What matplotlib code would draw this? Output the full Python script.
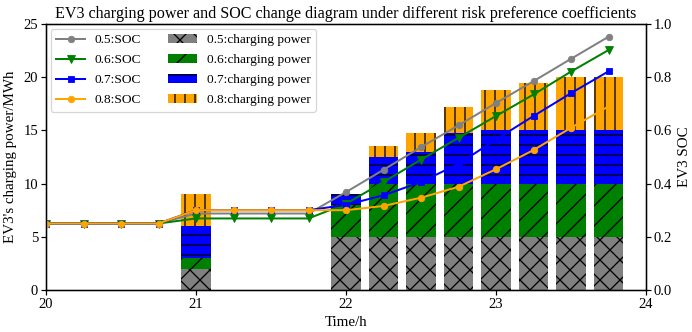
import matplotlib
matplotlib.use("Agg")
import matplotlib.pyplot as plt
import numpy as np

DPI = 60
PT = 72.0 / DPI  # points per pixel

plt.rcParams['font.family'] = ['Liberation Serif', 'DejaVu Serif']
plt.rcParams['hatch.linewidth'] = 1.3 * PT
plt.rcParams['mathtext.fontset'] = 'stix'

# ---------------- data ----------------
times = [20.0, 20.25, 20.5, 20.75, 21.0, 21.25, 21.5, 21.75,
         22.0, 22.25, 22.5, 22.75, 23.0, 23.25, 23.5, 23.75]

soc_05 = [0.25, 0.25, 0.25, 0.25, 0.2875, 0.2875, 0.2875, 0.2875,
          0.368, 0.452, 0.537, 0.619, 0.703, 0.785, 0.869, 0.952]
soc_06 = [0.25, 0.25, 0.25, 0.25, 0.269, 0.269, 0.269, 0.269,
          0.324, 0.406, 0.490, 0.572, 0.654, 0.735, 0.821, 0.902]
soc_07 = [0.25, 0.25, 0.25, 0.25, 0.30, 0.30, 0.30, 0.30,
          0.320, 0.356, 0.406, 0.474, 0.566, 0.654, 0.740, 0.822]
soc_08 = [0.25, 0.25, 0.25, 0.25, 0.30, 0.30, 0.30, 0.30,
          0.300, 0.316, 0.347, 0.388, 0.454, 0.526, 0.610, 0.690]

bar_times = [21.0, 22.0, 22.25, 22.5, 22.75, 23.0, 23.25, 23.5, 23.75]
power_05 = [2, 5, 5, 5, 5, 5, 5, 5, 5]
power_06 = [1, 3, 5, 5, 5, 5, 5, 5, 5]
power_07 = [3, 1, 2.5, 3, 4.75, 5, 5, 5, 5]
power_08 = [3, 0, 1, 1.8, 2.45, 3.8, 4.5, 5, 5]

soc_labels = ['0.5:SOC', '0.6:SOC', '0.7:SOC', '0.8:SOC']
power_labels = ['0.5:charging power', '0.6:charging power',
                '0.7:charging power', '0.8:charging power']
colors = ['gray', 'green', 'blue', 'orange']
markers = ['o', 'v', 's', 'o']
hatches = ['x', '/', '-', '|']

x_ticks = [20, 21, 22, 23, 24]
y_ticks = [0, 5, 10, 15, 20, 25]
soc_ticks = [0.0, 0.2, 0.4, 0.6, 0.8, 1.0]

# ---------------- figure ----------------
W, H = 692, 332
fig = plt.figure(figsize=(W / DPI, H / DPI), dpi=DPI)
left, right, top, bottom = 46, 646, 24, 290
ax1 = fig.add_axes([left / W, 1 - bottom / H, (right - left) / W, (bottom - top) / H])

K = 100 / 72 * PT  # convert "points at 100 dpi" to points at this dpi
fs_tick = 10.5 * K
fs_lab = 10.8 * K
fs_title = 11.6 * K
fs_leg = 9.6 * K

powers = [power_05, power_06, power_07, power_08]
bottoms = np.zeros(len(bar_times))
bar_handles = []
for p, c, h, lab in zip(powers, colors, hatches, power_labels):
    b = ax1.bar(bar_times, p, width=0.2, bottom=bottoms, color=c,
                edgecolor='black', linewidth=0, hatch=h, label=lab)
    bar_handles.append(b)
    bottoms = bottoms + np.array(p)

ax1.set_xlim(20, 24)
ax1.set_ylim(0, 25)
ax1.set_xticks(x_ticks)
ax1.set_yticks(y_ticks)
ax1.set_xlabel('Time/h', fontsize=fs_lab, labelpad=5 * PT)
ax1.set_ylabel("EV3's charging power/MWh", fontsize=fs_lab, labelpad=6 * PT)
ax1.tick_params(labelsize=fs_tick, length=5 * PT, width=1.2 * PT, pad=3 * PT)
for s in ax1.spines.values():
    s.set_linewidth(1.3 * PT)

ax2 = ax1.twinx()
ax2.set_ylim(0, 1.0)
ax2.set_yticks(soc_ticks)
ax2.set_yticklabels([f'{v:.1f}' for v in soc_ticks])
ax2.set_ylabel('EV3 SOC', fontsize=fs_lab, labelpad=6 * PT)
ax2.tick_params(labelsize=fs_tick, length=5 * PT, width=1.2 * PT, pad=3 * PT)
for s in ax2.spines.values():
    s.set_linewidth(1.3 * PT)

socs = [soc_05, soc_06, soc_07, soc_08]
msz = [6.5, 7.5, 6.5, 6.5]
line_handles = []
for s, c, m, lab, ms in zip(socs, colors, markers, soc_labels, msz):
    ln, = ax2.plot(times, s, color=c, marker=m, markersize=ms * PT,
                   linewidth=2.0 * PT, label=lab)
    line_handles.append(ln)

ax1.set_title('EV3 charging power and SOC change diagram under different risk preference coefficients',
              fontsize=fs_title, pad=6 * PT)

leg = ax2.legend(line_handles + bar_handles, soc_labels + power_labels,
                 loc='upper left', ncol=2, fontsize=fs_leg,
                 bbox_to_anchor=(0.008, 0.983), frameon=True,
                 handlelength=2.2, columnspacing=2.0, handletextpad=0.7,
                 labelspacing=0.58, borderpad=0.4, borderaxespad=0.0)
leg.get_frame().set_edgecolor('#cccccc')
leg.get_frame().set_linewidth(1.2 * PT)

fig.savefig('out.png', dpi=DPI)
